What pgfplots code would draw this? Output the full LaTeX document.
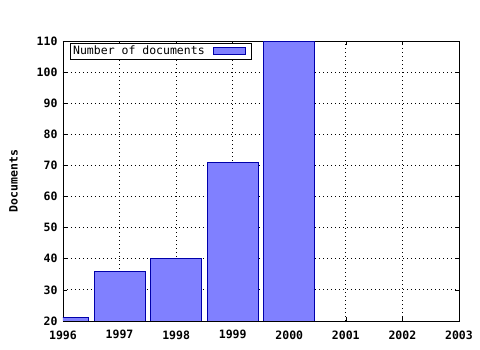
\documentclass[border=0pt]{standalone}
\usepackage{pgfplots}
\pgfplotsset{compat=1.18}
\usepackage{fontspec}
\setmainfont{DejaVu Sans Mono}[BoldFont={DejaVu Sans Mono Bold}]
\newfontfamily\bmono{DejaVu Sans Mono Bold}
\definecolor{barfill}{RGB}{128,128,255}
\definecolor{baredge}{RGB}{0,0,170}
\begin{document}
\begin{tikzpicture}
\useasboundingbox (-63pt,-29pt) rectangle (417pt,321pt);
\begin{axis}[
  scale only axis,
  width=396pt, height=280pt,
  xmin=1996, xmax=2003, ymin=20, ymax=110,
  xtick={1996,...,2003},
  ytick={20,30,...,110},
  minor x tick num=3,
  ticklabel style={font=\fontsize{11.5}{13}\bmono},
  /pgf/number format/assume math mode=true,
  /pgf/number format/1000 sep={},
  grid=major,
  major grid style={black, line width=0.9pt, dash pattern=on 1.2pt off 2.8pt},
  axis line style={black, line width=0.9pt},
  tick style={black, line width=0.6pt},
  major tick length=4pt, minor tick length=2pt,
  ylabel={Documents},
  ylabel style={font=\fontsize{11.5}{13}\bmono, yshift=12pt},
  xticklabel style={yshift=-6pt},
  yticklabel style={xshift=-2pt},
  legend style={at={(axis cs:1996.13,109.3)}, anchor=north west, draw=black, line width=0.9pt,
    font=\fontsize{11.5}{13}\selectfont, inner sep=0.8pt, outer sep=0pt,
    legend cell align=left, row sep=0pt},
  legend plot pos=right,
  legend image code/.code={\path[draw=none, fill=none] (0pt,-3.5pt) rectangle (44pt,3.5pt); \draw[#1, draw=baredge, fill=barfill, line width=0.6pt] (7pt,-3.5pt) rectangle (39pt,3.5pt);},
]
\addplot[ybar, bar width=0.9, bar shift=0pt, fill=barfill, draw=baredge, line width=0.8pt]
  coordinates {(1996,21) (1997,36) (1998,40) (1999,71) (2000,110)};
\addlegendentry{Number of documents}
\end{axis}
\end{tikzpicture}
\end{document}
